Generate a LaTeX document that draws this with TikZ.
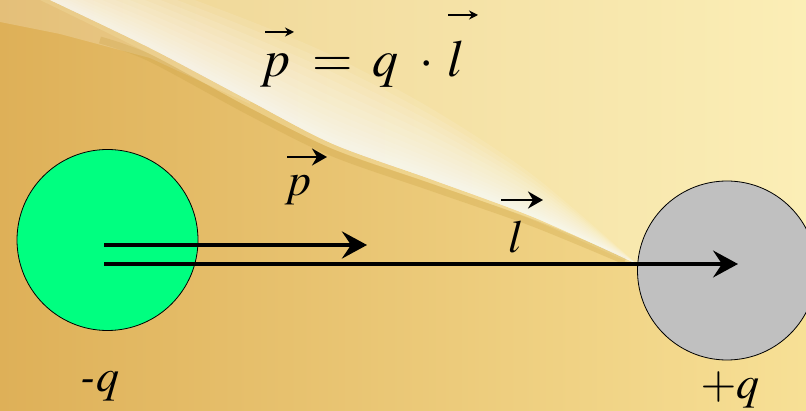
\documentclass[tikz,border=0pt]{standalone}
\usepackage[T1]{fontenc}
\usepackage{mathptmx}
\usetikzlibrary{arrows.meta}
\definecolor{goldA}{RGB}{222,176,88}
\definecolor{goldB}{RGB}{247,224,150}
\definecolor{creamA}{RGB}{238,212,148}
\definecolor{creamB}{RGB}{251,238,182}
\definecolor{edgegold}{RGB}{200,160,65}
\definecolor{chgreen}{RGB}{0,255,128}
\definecolor{chgray}{RGB}{192,192,192}
\tikzset{
  charge/.style={circle, draw=black, line width=0.8pt, inner sep=0pt},
  mainarrow/.style={-{Stealth[length=25pt,width=27pt,inset=9pt]}},
  vecarrow/.style={line width=2.8pt,-{Stealth[length=15pt,width=17pt,inset=5pt]}},
  smallvec/.style={line width=1.5pt,-{Stealth[length=9pt,width=9pt,inset=3pt]}},
  lbl/.style={font=\fontsize{46}{50}\selectfont, inner sep=0pt, anchor=base},
  frm/.style={font=\fontsize{52}{56}\selectfont, inner sep=0pt, anchor=base}
}
\begin{document}
\begin{tikzpicture}[x=1pt,y=1pt]
\useasboundingbox (0,0) rectangle (806,410);
% background
\shade[left color=goldA,right color=goldB] (0,0) rectangle (806,410);
\fill[white, opacity=0.2] (0,410) -- (0,388) -- (60,376) -- (150,352) -- (250,306) -- (250,410) -- cycle;
\shade[left color=creamA,right color=creamB, opacity=0.5]
  plot[smooth] coordinates {(40,410) (150,356) (250,302) (333,261) (433,226) (533,190) (637,144)}
  -- (806,144) -- (806,410) -- cycle;
\shade[left color=creamA,right color=creamB]
  plot[smooth] coordinates {(50,410) (150,362) (250,309) (333,266) (433,230) (533,193) (637,146)}
  -- (806,146) -- (806,410) -- cycle;
\draw[edgegold, opacity=0.28, line width=7pt]
  plot[smooth] coordinates {(100,370) (150,352) (250,298) (333,257) (433,222) (533,187) (625,149)};
% soft white glow: many thin translucent layers
\foreach \w in {1.6,1.45,1.3,1.15,1.0,0.85,0.7,0.58,0.46,0.36,0.27,0.19,0.12} {
  \fill[white, opacity=0.1]
    plot[smooth] coordinates {(50,410) (150,362) (250,309) (333,266) (433,230) (533,193) (637,146)}
    -- plot[smooth] coordinates {(637,146) (533,193+26*\w) (433,230+44*\w) (333,266+55*\w) (250,309+50*\w) (150,362+40*\w) (50,410+30*\w)}
    -- cycle;
}
% charges
\node[charge, fill=chgreen, minimum size=181pt] (neg) at (107.5,170) {};
\node[charge, fill=chgray, minimum size=179pt] (pos) at (727,139.5) {};
% arrows
\coordinate (pA) at (104,165);
\coordinate (pB) at (367,165);
\coordinate (lA) at (104,146);
\coordinate (lB) at (738,146);
\draw[mainarrow, line width=4pt] (pA) -- (pB);
\draw[mainarrow, line width=3.3pt] (lA) -- (lB);
% labels
\node[lbl] (plbl) at (298,214) {$p$};
\coordinate (pvA) at (287,253);
\coordinate (pvB) at (327,253);
\draw[vecarrow] (pvA) -- (pvB);
\node[lbl] (llbl) at (516,157) {$l$};
\coordinate (lvA) at (501,210);
\coordinate (lvB) at (543,210);
\draw[vecarrow] (lvA) -- (lvB);
\node[lbl] (neglbl) at (100,19) {\textit{-q}};
\node[lbl] (poslbl) at (730,12) {$+q$};
% formula
\node[frm] (fp) at (276,333) {$p$};
\node[frm] (feq) at (333,333) {$=$};
\node[frm] (fq) at (385,333) {$q$};
\node[frm] (fdot) at (427,333) {$\cdot$};
\node[frm] (fl) at (456,333) {$l$};
\coordinate (fpA) at (265,378);
\coordinate (fpB) at (294,378);
\draw[smallvec] (fpA) -- (fpB);
\coordinate (flA) at (448,395);
\coordinate (flB) at (478,395);
\draw[smallvec] (flA) -- (flB);
\end{tikzpicture}
\end{document}
